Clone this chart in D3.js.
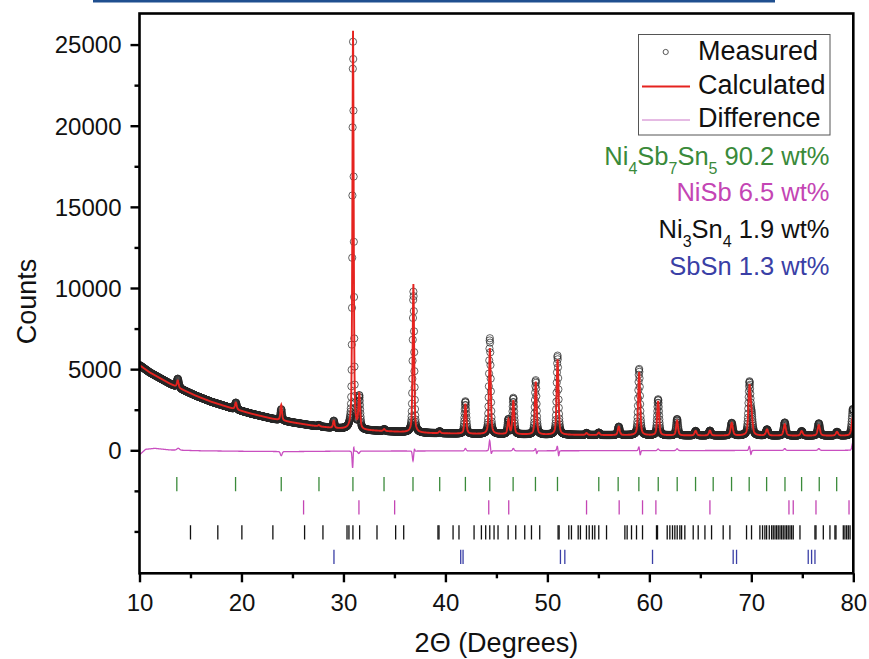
<!DOCTYPE html>
<html>
<head>
<meta charset="utf-8">
<script src="https://cdn.jsdelivr.net/npm/d3@7"></script>
<style>
  html, body { margin: 0; padding: 0; background: #fff; }
  svg { display: block; font-family: "Liberation Sans", Arial, Helvetica, sans-serif; }
</style>
</head>
<body>
<svg id="chart" width="869" height="659"></svg>
<script>
// ---- Refinement data -------------------------------------------------------

// Smooth background (counts) at anchor angles (2θ, degrees)
const bgAngles = [10, 11, 12, 13, 14, 15.5, 17, 19, 21, 23, 25, 27, 29, 31, 33.5, 36, 38.5, 43.5, 50, 60, 70, 80];
const bgCounts = [5250, 4800, 4450, 4100, 3800, 3370, 3000, 2600, 2250, 1950, 1720, 1520, 1360, 1270, 1190, 1120, 1060, 1000, 960, 920, 900, 900];

// Reflections of the calculated profile: position, height above background, FWHM
const peakPos    = [13.75, 19.45, 23.9, 27.6, 29.05, 30.94, 31.55, 34.0, 36.86, 39.44, 41.96, 44.36, 46.18, 46.66, 48.86, 51.0, 53.84, 55.04, 57.0, 59.0, 60.86, 62.72, 64.54, 65.94, 68.08, 69.82, 70.02, 71.54, 73.28, 74.94, 76.62, 78.4, 79.96];
const peakHeight = [430, 420, 950, 80, 450, 24550, 2100, 120, 9150, 120, 1850, 5300, 900, 2080, 3250, 4650, 120, 150, 520, 3900, 2120, 900, 280, 300, 780, 2900, 1000, 380, 700, 280, 650, 230, 1150];
const peakFwhm   = [0.2, 0.2, 0.18, 0.2, 0.18, 0.15, 0.2, 0.2, 0.17, 0.2, 0.2, 0.2, 0.2, 0.2, 0.2, 0.21, 0.22, 0.22, 0.22, 0.22, 0.22, 0.22, 0.24, 0.24, 0.25, 0.25, 0.25, 0.26, 0.26, 0.26, 0.27, 0.27, 0.28];

// Difference (observed − calculated): slow baseline plus local misfits at peaks
const diffBaseAngles = [10, 10.6, 11.5, 13, 16, 20, 25, 30, 40, 50, 60, 70, 80];
const diffBaseValues = [-280, 60, 120, 20, -30, -60, -80, -50, -40, -30, -20, -10, 0];
const diffPos  = [13.8, 23.9, 30.9, 31.0, 31.5, 36.82, 36.96, 41.96, 44.34, 44.5, 46.66, 48.84, 48.95, 50.98, 51.1, 58.98, 59.1, 60.86, 62.72, 69.8, 69.96, 73.28, 76.62, 79.96];
const diffAmp  = [120, -260, -1050, 380, -150, -620, 160, 150, 650, -200, 150, 150, -200, 300, -350, 250, -300, 100, 110, 250, -260, 110, 110, 500];
const diffFwhm = [0.3, 0.2, 0.12, 0.08, 0.2, 0.14, 0.1, 0.18, 0.15, 0.12, 0.18, 0.15, 0.12, 0.15, 0.12, 0.15, 0.12, 0.18, 0.2, 0.15, 0.12, 0.2, 0.2, 0.2];

// Bragg reflection positions (2θ) of each refined phase
const reflNi4Sb7Sn5 = [13.66, 19.42, 23.9, 27.6, 30.93, 33.98, 36.82, 39.44, 41.96, 44.35, 46.64, 48.83, 50.99, 55.04, 56.94, 58.97, 60.87, 62.73, 64.53, 66.26, 68.06, 69.79, 71.5, 73.3, 74.93, 76.66, 78.37];
const reflNiSb = [26.09, 31.52, 35.02, 44.25, 46.21, 53.84, 57.04, 59.33, 60.64, 65.94, 73.69, 74.11, 76.34, 79.58];
const reflNi3Sn4 = [15.0, 17.68, 20.04, 23.08, 26.19, 27.99, 30.35, 30.54, 30.93, 31.59, 33.29, 35.12, 35.91, 39.27, 39.37, 40.75, 41.33, 42.81, 43.53, 43.95, 44.35, 44.77, 45.16,
  46.15, 46.9, 47.78, 48.44, 49.25, 51.05, 51.15, 52.1, 52.36, 53.02, 53.24, 53.83, 54.1, 54.42, 54.65, 55.04, 55.8, 57.6, 57.82, 58.25, 58.74, 59.33, 60.7, 60.8, 61.75, 62.01, 62.27, 62.5, 62.73, 62.99, 63.16, 63.48, 64.3, 64.79, 65.45, 66.1, 67.24, 67.9, 69.53, 70.02,
  70.84, 71.1, 71.33, 71.5, 71.76, 71.99, 72.15, 72.32, 72.48, 72.64, 72.81, 72.97, 73.13, 73.3, 73.46, 73.62, 73.79, 73.95, 74.11, 74.77, 76.24, 76.34, 77.06, 77.71, 78.2, 78.3, 79.02, 79.18, 79.35, 79.51, 79.68];
const reflSbSn = [29.07, 41.5, 41.73, 51.28, 51.71, 60.31, 68.22, 68.55, 75.58, 75.91, 76.24];

// Phase labels: formula pieces ([text, isSubscript]) and weight fractions
const phaseFormula = [
  [["Ni", 0], ["4", 1], ["Sb", 0], ["7", 1], ["Sn", 0], ["5", 1]],
  [["NiSb", 0]],
  [["Ni", 0], ["3", 1], ["Sn", 0], ["4", 1]],
  [["SbSn", 0]]
];
const phaseWt = [90.2, 6.5, 1.9, 1.3];
const phaseColor = ["#3a8a3a", "#c445b4", "#111111", "#3a3fa6"];

// Axis ticks
const xTicks = [10, 20, 30, 40, 50, 60, 70, 80];
const xMinorTicks = [15, 25, 35, 45, 55, 65, 75];
const yTicks = [0, 5000, 10000, 15000, 20000, 25000];
const yMinorTicks = [-5000, -2500, 2500, 7500, 12500, 17500, 22500];

// ---- Drawing ---------------------------------------------------------------

const svg = d3.select("#chart");
const pL = 139.5, pR = 853.3, pT = 13.5, pB = 573.3;

const x = d3.scaleLinear().domain([10, 80]).range([pL, pR]);
const y = d3.scaleLinear().domain([-7580, 26915]).range([pB, pT]);
const background = d3.scaleLinear().domain(bgAngles).range(bgCounts);
const diffBase = d3.scaleLinear().domain(diffBaseAngles).range(diffBaseValues);

// pseudo-Voigt line shape
const LN2x4 = 4 * Math.LN2;
function pv(t, c, h, w, eta) {
  const u = (t - c) / w;
  return h * (eta / (1 + 4 * u * u) + (1 - eta) * Math.exp(-LN2x4 * u * u));
}

// measurement grid, 0.02° step
const step = 0.02;
const grid = d3.range(0, Math.round((80 - 10) / step) + 1).map(i => +(10 + i * step).toFixed(2));

const calc = grid.map(t => {
  let v = background(t);
  for (let k = 0; k < peakPos.length; k++) {
    if (Math.abs(t - peakPos[k]) < 4) v += pv(t, peakPos[k], peakHeight[k], peakFwhm[k], 0.5);
  }
  return v;
});
const diff = grid.map(t => {
  let v = diffBase(t);
  for (let k = 0; k < diffPos.length; k++) {
    if (Math.abs(t - diffPos[k]) < 1.5) v += pv(t, diffPos[k], diffAmp[k], diffFwhm[k], 0.2);
  }
  return v;
});
const obs = grid.map((t, i) => calc[i] + diff[i] - diffBase(t));

// page rule at the very top
svg.append("rect").attr("x", 93).attr("y", 0).attr("width", 682).attr("height", 2.5).attr("fill", "#1f4f8f");

const clipId = "plotclip";
svg.append("defs").append("clipPath").attr("id", clipId)
  .append("rect").attr("x", pL).attr("y", pT).attr("width", pR - pL).attr("height", pB - pT);
const plot = svg.append("g").attr("clip-path", `url(#${clipId})`);

// measured points
plot.append("g")
  .selectAll("circle")
  .data(grid)
  .join("circle")
  .attr("cx", d => x(d))
  .attr("cy", (d, i) => y(obs[i]))
  .attr("r", 3.6)
  .attr("fill", "none")
  .attr("stroke", "#262626")
  .attr("stroke-width", 0.9)
  .attr("stroke-opacity", 0.8);

// calculated profile
plot.append("path")
  .datum(grid)
  .attr("fill", "none")
  .attr("stroke", "#e5231f")
  .attr("stroke-width", 1.9)
  .attr("d", d3.line().x(d => x(d)).y((d, i) => y(calc[i])));

// difference curve
plot.append("path")
  .datum(grid)
  .attr("fill", "none")
  .attr("stroke", "#c94fc0")
  .attr("stroke-width", 1.3)
  .attr("d", d3.line().x(d => x(d)).y((d, i) => y(diff[i])));

// Bragg position rows
const reflSets = [reflNi4Sb7Sn5, reflNiSb, reflNi3Sn4, reflSbSn];
const rowCenters = [-2080, -3520, -5060, -6570];
const rowHalf = 440;
reflSets.forEach((set, r) => {
  plot.append("g")
    .selectAll("line")
    .data(set)
    .join("line")
    .attr("x1", d => x(d)).attr("x2", d => x(d))
    .attr("y1", y(rowCenters[r] + rowHalf))
    .attr("y2", y(rowCenters[r] - rowHalf))
    .attr("stroke", phaseColor[r])
    .attr("stroke-width", 1.3);
});

// axes
const tickFont = 24;
const xAxis = svg.append("g").attr("transform", `translate(0,${pB})`)
  .call(d3.axisBottom(x).tickValues(xTicks).tickSize(9).tickPadding(12).tickFormat(d3.format("d")));
const xMinor = svg.append("g").attr("transform", `translate(0,${pB})`)
  .call(d3.axisBottom(x).tickValues(xMinorTicks).tickSize(5).tickFormat(""));
const yAxis = svg.append("g").attr("transform", `translate(${pL},0)`)
  .call(d3.axisLeft(y).tickValues(yTicks).tickSize(9).tickPadding(9).tickFormat(d3.format("d")));
const yMinor = svg.append("g").attr("transform", `translate(${pL},0)`)
  .call(d3.axisLeft(y).tickValues(yMinorTicks).tickSize(5).tickFormat(""));

[xAxis, xMinor, yAxis, yMinor].forEach(g => {
  g.select(".domain").remove();
  g.selectAll(".tick line").attr("stroke", "#000").attr("stroke-width", 2.4);
  g.selectAll(".tick text").attr("fill", "#111").style("font-size", tickFont + "px")
    .style("font-family", "'Liberation Sans', Arial, sans-serif");
});
yAxis.selectAll(".tick text").attr("dy", "0.35em");

// frame
svg.append("rect")
  .attr("x", pL).attr("y", pT)
  .attr("width", pR - pL).attr("height", pB - pT)
  .attr("fill", "none").attr("stroke", "#000").attr("stroke-width", 2.6);

// axis titles
svg.append("text")
  .attr("transform", `translate(36,${(pT + pB) / 2 + 8}) rotate(-90)`)
  .attr("text-anchor", "middle")
  .style("font-size", "27px").attr("fill", "#111")
  .text("Counts");
svg.append("text")
  .attr("x", (pL + pR) / 2).attr("y", 652)
  .attr("text-anchor", "middle")
  .style("font-size", "27px").attr("fill", "#111")
  .text("2Θ (Degrees)");

// legend box
const lg = svg.append("g");
lg.append("rect").attr("x", 638.5).attr("y", 34.5).attr("width", 191.5).attr("height", 100.5)
  .attr("fill", "#fff").attr("stroke", "#555").attr("stroke-width", 1);
lg.append("circle").attr("cx", 665.7).attr("cy", 52).attr("r", 2.6)
  .attr("fill", "none").attr("stroke", "#444").attr("stroke-width", 0.9);
lg.append("line").attr("x1", 642).attr("x2", 690).attr("y1", 86.5).attr("y2", 86.5)
  .attr("stroke", "#e5231f").attr("stroke-width", 1.8);
lg.append("line").attr("x1", 642).attr("x2", 690).attr("y1", 120).attr("y2", 120)
  .attr("stroke", "#cc77c8").attr("stroke-width", 1);
const legendNames = ["Measured", "Calculated", "Difference"];
const legendBase = [60, 93.5, 127];
legendNames.forEach((n, i) => {
  lg.append("text").attr("x", 698).attr("y", legendBase[i])
    .style("font-size", "27px").attr("fill", "#111").text(n);
});

// phase labels with subscripts
const phaseBase = [165, 201, 238, 275];
const subShift = 8.5;
phaseFormula.forEach((parts, i) => {
  const t = svg.append("text")
    .attr("x", 829.5).attr("y", phaseBase[i])
    .attr("text-anchor", "end")
    .style("font-size", "25.5px")
    .attr("fill", phaseColor[i]);
  let lowered = false;
  parts.forEach(([s, sub]) => {
    const sp = t.append("tspan").text(s);
    if (sub && !lowered) { sp.attr("dy", subShift).style("font-size", "16px"); lowered = true; }
    else if (sub && lowered) { sp.style("font-size", "16px"); }
    else if (!sub && lowered) { sp.attr("dy", -subShift); lowered = false; }
  });
  const tail = t.append("tspan").text(" " + phaseWt[i].toFixed(1) + " wt%");
  if (lowered) tail.attr("dy", -subShift);
});
</script>
</body>
</html>
